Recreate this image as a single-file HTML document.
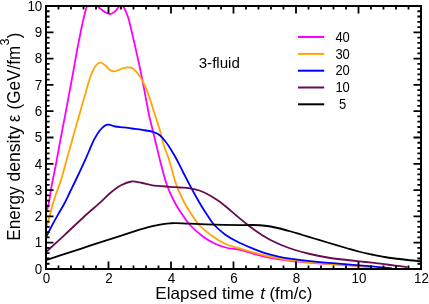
<!DOCTYPE html>
<html><head><meta charset="utf-8"><title>chart</title>
<style>html,body{margin:0;padding:0;background:#fff}svg{display:block;will-change:transform;opacity:0.999}</style></head>
<body>
<svg width="429" height="304" viewBox="0 0 429 304">
<rect width="429" height="304" fill="#fff"/>
<defs><clipPath id="c"><rect x="46.0" y="6.0" width="375.0" height="264.2"/></clipPath></defs>
<g clip-path="url(#c)" fill="none" stroke-width="1.8" stroke-linejoin="round" stroke-linecap="butt">
<path d="M46.00 213.50 C46.25 212.67 46.97 210.58 47.50 208.50 C48.03 206.42 48.52 204.75 49.20 201.00 C49.88 197.25 50.50 192.00 51.60 186.00 C52.70 180.00 54.42 172.25 55.80 165.00 C57.18 157.75 58.33 150.83 59.90 142.50 C61.47 134.17 63.70 122.92 65.20 115.00 C66.70 107.08 67.57 102.17 68.90 95.00 C70.23 87.83 71.83 79.50 73.20 72.00 C74.57 64.50 76.07 55.58 77.10 50.00 C78.13 44.42 78.60 42.50 79.40 38.50 C80.20 34.50 80.98 30.25 81.90 26.00 C82.82 21.75 84.10 16.18 84.90 13.00 C85.70 9.82 85.98 8.82 86.70 6.90 C87.42 4.98 88.22 2.82 89.20 1.50 C90.18 0.18 91.50 -1.00 92.60 -1.00 C93.70 -1.00 94.85 0.18 95.80 1.50 C96.75 2.82 97.27 5.48 98.30 6.90 C99.33 8.32 100.72 9.05 102.00 10.00 C103.28 10.95 104.63 11.93 106.00 12.60 C107.37 13.27 108.87 14.05 110.20 14.00 C111.53 13.95 112.93 13.03 114.00 12.30 C115.07 11.57 115.80 10.50 116.60 9.60 C117.40 8.70 118.03 7.67 118.80 6.90 C119.57 6.13 120.43 5.00 121.20 5.00 C121.97 5.00 122.70 5.98 123.40 6.90 C124.10 7.82 124.73 9.07 125.40 10.50 C126.07 11.93 126.82 13.92 127.40 15.50 C127.98 17.08 128.08 16.92 128.90 20.00 C129.72 23.08 131.20 29.33 132.30 34.00 C133.40 38.67 134.45 43.33 135.50 48.00 C136.55 52.67 137.58 57.33 138.60 62.00 C139.62 66.67 140.65 71.33 141.60 76.00 C142.55 80.67 143.42 85.33 144.30 90.00 C145.18 94.67 146.00 99.33 146.90 104.00 C147.80 108.67 148.70 113.50 149.70 118.00 C150.70 122.50 151.80 126.50 152.90 131.00 C154.00 135.50 154.92 139.33 156.30 145.00 C157.68 150.67 159.43 158.33 161.20 165.00 C162.97 171.67 164.73 178.92 166.90 185.00 C169.07 191.08 171.75 196.75 174.20 201.50 C176.65 206.25 178.97 209.58 181.60 213.50 C184.23 217.42 186.52 221.21 190.00 225.00 C193.48 228.79 198.33 233.12 202.50 236.25 C206.67 239.38 210.83 241.79 215.00 243.75 C219.17 245.71 223.33 246.99 227.50 248.00 C231.67 249.01 235.83 248.88 240.00 249.80 C244.17 250.72 248.33 252.33 252.50 253.50 C256.67 254.67 258.75 255.58 265.00 256.80 C271.25 258.02 281.67 259.77 290.00 260.80 C298.33 261.83 305.50 262.27 315.00 263.00 C324.50 263.73 337.50 264.53 347.00 265.20 C356.50 265.87 367.83 266.70 372.00 267.00" stroke="#ff00ff"/>
<path d="M46.00 228.50 C46.25 227.75 46.88 226.17 47.50 224.00 C48.12 221.83 48.62 219.50 49.70 215.50 C50.78 211.50 52.12 205.92 54.00 200.00 C55.88 194.08 58.90 186.67 61.00 180.00 C63.10 173.33 64.73 166.67 66.60 160.00 C68.47 153.33 70.52 146.00 72.20 140.00 C73.88 134.00 75.00 130.00 76.70 124.00 C78.40 118.00 80.98 108.93 82.40 104.00 C83.82 99.07 84.20 97.92 85.20 94.40 C86.20 90.88 87.22 86.67 88.40 82.90 C89.58 79.13 90.98 74.78 92.30 71.80 C93.62 68.82 94.92 66.53 96.30 65.00 C97.68 63.47 99.12 62.55 100.60 62.60 C102.08 62.65 103.77 64.17 105.20 65.30 C106.63 66.43 107.80 68.38 109.20 69.40 C110.60 70.42 112.05 71.30 113.60 71.40 C115.15 71.50 116.87 70.55 118.50 70.00 C120.13 69.45 121.82 68.53 123.40 68.10 C124.98 67.67 126.48 67.35 128.00 67.40 C129.52 67.45 131.05 67.60 132.50 68.40 C133.95 69.20 135.32 70.62 136.70 72.20 C138.08 73.78 139.40 75.58 140.80 77.90 C142.20 80.22 143.65 82.82 145.10 86.10 C146.55 89.38 148.12 93.62 149.50 97.60 C150.88 101.58 151.63 104.43 153.40 110.00 C155.17 115.57 158.38 125.17 160.10 131.00 C161.82 136.83 162.20 140.17 163.70 145.00 C165.20 149.83 166.98 153.33 169.10 160.00 C171.22 166.67 173.95 178.08 176.40 185.00 C178.85 191.92 181.32 196.67 183.80 201.50 C186.28 206.33 188.73 210.08 191.30 214.00 C193.87 217.92 195.67 221.29 199.20 225.00 C202.73 228.71 208.20 233.12 212.50 236.25 C216.80 239.38 220.83 241.81 225.00 243.75 C229.17 245.69 232.92 246.49 237.50 247.90 C242.08 249.31 247.92 250.93 252.50 252.20 C257.08 253.47 258.75 254.17 265.00 255.50 C271.25 256.83 281.67 258.98 290.00 260.20 C298.33 261.42 305.50 261.97 315.00 262.80 C324.50 263.63 337.50 264.50 347.00 265.20 C356.50 265.90 367.83 266.70 372.00 267.00" stroke="#ffa500"/>
<path d="M46.00 237.50 C46.52 236.43 47.93 233.42 49.10 231.10 C50.27 228.78 51.52 226.35 53.00 223.60 C54.48 220.85 56.15 217.87 58.00 214.60 C59.85 211.33 62.10 207.77 64.10 204.00 C66.10 200.23 68.05 196.00 70.00 192.00 C71.95 188.00 73.30 185.28 75.80 180.00 C78.30 174.72 82.63 165.50 85.00 160.30 C87.37 155.10 88.47 152.28 90.00 148.80 C91.53 145.32 92.63 142.37 94.20 139.40 C95.77 136.43 97.65 133.28 99.40 131.00 C101.15 128.72 103.12 126.75 104.70 125.70 C106.28 124.65 107.15 124.57 108.90 124.70 C110.65 124.83 112.75 126.05 115.20 126.50 C117.65 126.95 120.80 127.07 123.60 127.40 C126.40 127.73 128.87 128.08 132.00 128.50 C135.13 128.92 138.92 129.35 142.40 129.90 C145.88 130.45 150.10 130.98 152.90 131.80 C155.70 132.62 157.10 133.18 159.20 134.80 C161.30 136.42 163.40 138.82 165.50 141.50 C167.60 144.18 169.88 147.82 171.80 150.90 C173.72 153.98 175.13 156.48 177.00 160.00 C178.87 163.52 181.00 168.07 183.00 172.00 C185.00 175.93 187.00 179.80 189.00 183.60 C191.00 187.40 193.00 191.18 195.00 194.80 C197.00 198.42 198.92 201.85 201.00 205.30 C203.08 208.75 205.28 212.22 207.50 215.50 C209.72 218.78 211.38 221.85 214.30 225.00 C217.22 228.15 221.13 231.60 225.00 234.40 C228.87 237.20 232.92 239.47 237.50 241.80 C242.08 244.13 247.92 246.50 252.50 248.40 C257.08 250.30 260.83 251.87 265.00 253.20 C269.17 254.53 273.33 255.48 277.50 256.40 C281.67 257.32 283.75 257.83 290.00 258.70 C296.25 259.57 305.50 260.65 315.00 261.60 C324.50 262.55 337.50 263.60 347.00 264.40 C356.50 265.20 364.50 265.73 372.00 266.40 C379.50 267.07 388.67 268.07 392.00 268.40" stroke="#0000ff"/>
<path d="M46.00 252.00 C49.17 249.10 58.71 240.43 65.00 234.60 C71.29 228.77 77.92 222.33 83.75 217.00 C89.58 211.67 95.54 206.65 100.00 202.60 C104.46 198.55 107.00 195.60 110.50 192.70 C114.00 189.80 117.50 187.07 121.00 185.20 C124.50 183.33 128.00 181.87 131.50 181.50 C135.00 181.13 138.52 182.37 142.00 183.00 C145.48 183.63 147.75 184.67 152.40 185.30 C157.05 185.93 165.30 186.43 169.90 186.80 C174.50 187.17 176.65 187.23 180.00 187.50 C183.35 187.77 186.78 187.90 190.00 188.40 C193.22 188.90 196.20 189.45 199.30 190.50 C202.40 191.55 205.48 193.02 208.60 194.70 C211.72 196.38 214.88 198.42 218.00 200.60 C221.12 202.78 224.20 205.27 227.30 207.80 C230.40 210.33 233.50 213.18 236.60 215.80 C239.70 218.42 242.78 221.05 245.90 223.50 C249.02 225.95 252.50 228.50 255.30 230.50 C258.10 232.50 260.25 233.97 262.70 235.50 C265.15 237.03 266.70 238.03 270.00 239.70 C273.30 241.37 278.33 243.78 282.50 245.50 C286.67 247.22 290.42 248.58 295.00 250.00 C299.58 251.42 304.58 252.75 310.00 254.00 C315.42 255.25 321.33 256.50 327.50 257.50 C333.67 258.50 341.67 259.35 347.00 260.00 C352.33 260.65 355.33 260.95 359.50 261.40 C363.67 261.85 367.83 262.23 372.00 262.70 C376.17 263.17 380.33 263.68 384.50 264.20 C388.67 264.72 393.17 265.30 397.00 265.80 C400.83 266.30 405.75 266.97 407.50 267.20" stroke="#660c4f"/>
<path d="M46.00 260.10 C49.17 259.07 57.67 256.30 65.00 253.90 C72.33 251.50 81.67 248.42 90.00 245.70 C98.33 242.98 107.50 240.03 115.00 237.60 C122.50 235.17 130.00 232.67 135.00 231.10 C140.00 229.53 141.67 229.10 145.00 228.20 C148.33 227.30 152.00 226.37 155.00 225.70 C158.00 225.03 160.50 224.60 163.00 224.20 C165.50 223.80 167.83 223.48 170.00 223.30 C172.17 223.12 172.67 223.03 176.00 223.10 C179.33 223.17 183.50 223.45 190.00 223.70 C196.50 223.95 206.67 224.37 215.00 224.60 C223.33 224.83 233.75 225.03 240.00 225.10 C246.25 225.17 248.33 224.89 252.50 225.00 C256.67 225.11 260.83 225.25 265.00 225.75 C269.17 226.25 273.33 227.08 277.50 228.00 C281.67 228.92 285.83 230.08 290.00 231.25 C294.17 232.42 298.33 233.75 302.50 235.00 C306.67 236.25 310.83 237.50 315.00 238.75 C319.17 240.00 322.17 240.92 327.50 242.50 C332.83 244.08 341.67 246.71 347.00 248.25 C352.33 249.79 355.33 250.71 359.50 251.75 C363.67 252.79 367.83 253.62 372.00 254.50 C376.17 255.38 380.33 256.29 384.50 257.00 C388.67 257.71 392.83 258.21 397.00 258.75 C401.17 259.29 405.50 259.83 409.50 260.25 C413.50 260.67 419.08 261.08 421.00 261.25" stroke="#000000"/>
</g>
<rect x="46.00" y="6.00" width="375.00" height="263.00" fill="none" stroke="#000" stroke-width="2"/>
<path d="M58.50 269.00 v-3.60 M58.50 6.00 v3.60 M71.00 269.00 v-3.60 M71.00 6.00 v3.60 M83.50 269.00 v-3.60 M83.50 6.00 v3.60 M96.00 269.00 v-3.60 M96.00 6.00 v3.60 M108.50 269.00 v-7.50 M108.50 6.00 v7.50 M121.00 269.00 v-3.60 M121.00 6.00 v3.60 M133.50 269.00 v-3.60 M133.50 6.00 v3.60 M146.00 269.00 v-3.60 M146.00 6.00 v3.60 M158.50 269.00 v-3.60 M158.50 6.00 v3.60 M171.00 269.00 v-7.50 M171.00 6.00 v7.50 M183.50 269.00 v-3.60 M183.50 6.00 v3.60 M196.00 269.00 v-3.60 M196.00 6.00 v3.60 M208.50 269.00 v-3.60 M208.50 6.00 v3.60 M221.00 269.00 v-3.60 M221.00 6.00 v3.60 M233.50 269.00 v-7.50 M233.50 6.00 v7.50 M246.00 269.00 v-3.60 M246.00 6.00 v3.60 M258.50 269.00 v-3.60 M258.50 6.00 v3.60 M271.00 269.00 v-3.60 M271.00 6.00 v3.60 M283.50 269.00 v-3.60 M283.50 6.00 v3.60 M296.00 269.00 v-7.50 M296.00 6.00 v7.50 M308.50 269.00 v-3.60 M308.50 6.00 v3.60 M321.00 269.00 v-3.60 M321.00 6.00 v3.60 M333.50 269.00 v-3.60 M333.50 6.00 v3.60 M346.00 269.00 v-3.60 M346.00 6.00 v3.60 M358.50 269.00 v-7.50 M358.50 6.00 v7.50 M371.00 269.00 v-3.60 M371.00 6.00 v3.60 M383.50 269.00 v-3.60 M383.50 6.00 v3.60 M396.00 269.00 v-3.60 M396.00 6.00 v3.60 M408.50 269.00 v-3.60 M408.50 6.00 v3.60 M46.00 263.74 h3.60 M421.00 263.74 h-3.60 M46.00 258.48 h3.60 M421.00 258.48 h-3.60 M46.00 253.22 h3.60 M421.00 253.22 h-3.60 M46.00 247.96 h3.60 M421.00 247.96 h-3.60 M46.00 242.70 h7.50 M421.00 242.70 h-7.50 M46.00 237.44 h3.60 M421.00 237.44 h-3.60 M46.00 232.18 h3.60 M421.00 232.18 h-3.60 M46.00 226.92 h3.60 M421.00 226.92 h-3.60 M46.00 221.66 h3.60 M421.00 221.66 h-3.60 M46.00 216.40 h7.50 M421.00 216.40 h-7.50 M46.00 211.14 h3.60 M421.00 211.14 h-3.60 M46.00 205.88 h3.60 M421.00 205.88 h-3.60 M46.00 200.62 h3.60 M421.00 200.62 h-3.60 M46.00 195.36 h3.60 M421.00 195.36 h-3.60 M46.00 190.10 h7.50 M421.00 190.10 h-7.50 M46.00 184.84 h3.60 M421.00 184.84 h-3.60 M46.00 179.58 h3.60 M421.00 179.58 h-3.60 M46.00 174.32 h3.60 M421.00 174.32 h-3.60 M46.00 169.06 h3.60 M421.00 169.06 h-3.60 M46.00 163.80 h7.50 M421.00 163.80 h-7.50 M46.00 158.54 h3.60 M421.00 158.54 h-3.60 M46.00 153.28 h3.60 M421.00 153.28 h-3.60 M46.00 148.02 h3.60 M421.00 148.02 h-3.60 M46.00 142.76 h3.60 M421.00 142.76 h-3.60 M46.00 137.50 h7.50 M421.00 137.50 h-7.50 M46.00 132.24 h3.60 M421.00 132.24 h-3.60 M46.00 126.98 h3.60 M421.00 126.98 h-3.60 M46.00 121.72 h3.60 M421.00 121.72 h-3.60 M46.00 116.46 h3.60 M421.00 116.46 h-3.60 M46.00 111.20 h7.50 M421.00 111.20 h-7.50 M46.00 105.94 h3.60 M421.00 105.94 h-3.60 M46.00 100.68 h3.60 M421.00 100.68 h-3.60 M46.00 95.42 h3.60 M421.00 95.42 h-3.60 M46.00 90.16 h3.60 M421.00 90.16 h-3.60 M46.00 84.90 h7.50 M421.00 84.90 h-7.50 M46.00 79.64 h3.60 M421.00 79.64 h-3.60 M46.00 74.38 h3.60 M421.00 74.38 h-3.60 M46.00 69.12 h3.60 M421.00 69.12 h-3.60 M46.00 63.86 h3.60 M421.00 63.86 h-3.60 M46.00 58.60 h7.50 M421.00 58.60 h-7.50 M46.00 53.34 h3.60 M421.00 53.34 h-3.60 M46.00 48.08 h3.60 M421.00 48.08 h-3.60 M46.00 42.82 h3.60 M421.00 42.82 h-3.60 M46.00 37.56 h3.60 M421.00 37.56 h-3.60 M46.00 32.30 h7.50 M421.00 32.30 h-7.50 M46.00 27.04 h3.60 M421.00 27.04 h-3.60 M46.00 21.78 h3.60 M421.00 21.78 h-3.60 M46.00 16.52 h3.60 M421.00 16.52 h-3.60 M46.00 11.26 h3.60 M421.00 11.26 h-3.60" stroke="#000" stroke-width="1.8" fill="none"/>
<g font-family="'Liberation Sans', sans-serif" font-size="14.9px" fill="#000">
<text transform="translate(46.40,282.6) scale(0.900,1)" text-anchor="middle">0</text>
<text transform="translate(108.90,282.6) scale(0.900,1)" text-anchor="middle">2</text>
<text transform="translate(171.40,282.6) scale(0.900,1)" text-anchor="middle">4</text>
<text transform="translate(233.90,282.6) scale(0.900,1)" text-anchor="middle">6</text>
<text transform="translate(296.40,282.6) scale(0.900,1)" text-anchor="middle">8</text>
<text transform="translate(358.90,282.6) scale(0.900,1)" text-anchor="middle">10</text>
<text transform="translate(421.40,282.6) scale(0.900,1)" text-anchor="middle">12</text>
<text transform="translate(42.3,273.70) scale(0.900,1)" text-anchor="end">0</text>
<text transform="translate(42.3,247.40) scale(0.900,1)" text-anchor="end">1</text>
<text transform="translate(42.3,221.10) scale(0.900,1)" text-anchor="end">2</text>
<text transform="translate(42.3,194.80) scale(0.900,1)" text-anchor="end">3</text>
<text transform="translate(42.3,168.50) scale(0.900,1)" text-anchor="end">4</text>
<text transform="translate(42.3,142.20) scale(0.900,1)" text-anchor="end">5</text>
<text transform="translate(42.3,115.90) scale(0.900,1)" text-anchor="end">6</text>
<text transform="translate(42.3,89.60) scale(0.900,1)" text-anchor="end">7</text>
<text transform="translate(42.3,63.30) scale(0.900,1)" text-anchor="end">8</text>
<text transform="translate(42.3,37.00) scale(0.900,1)" text-anchor="end">9</text>
<text transform="translate(42.3,10.70) scale(0.900,1)" text-anchor="end">10</text>
</g>
<g font-family="'Liberation Sans', sans-serif" font-size="14.4px" fill="#000">
<path d="M298 37.00 H324.2" stroke="#ff00ff" stroke-width="2"/>
<text transform="translate(335.40,41.70) scale(0.9,1)">40</text>
<path d="M298 53.90 H324.2" stroke="#ffa500" stroke-width="2"/>
<text transform="translate(335.40,58.60) scale(0.9,1)">30</text>
<path d="M298 70.70 H324.2" stroke="#0000ff" stroke-width="2"/>
<text transform="translate(335.40,75.40) scale(0.9,1)">20</text>
<path d="M298 87.50 H324.2" stroke="#660c4f" stroke-width="2"/>
<text transform="translate(335.40,92.20) scale(0.9,1)">10</text>
<path d="M298 104.30 H324.2" stroke="#000000" stroke-width="2"/>
<text transform="translate(339.00,109.00) scale(0.9,1)">5</text>
</g>
<text x="198.7" y="67.8" font-family="'Liberation Sans', sans-serif" font-size="15.3px" fill="#000" textLength="41.2" lengthAdjust="spacingAndGlyphs">3-fluid</text>
<g font-family="'Liberation Sans', sans-serif" font-size="16.5px" fill="#000">
<text x="155.3" y="299.3" textLength="98.97" lengthAdjust="spacingAndGlyphs">Elapsed time</text>
<text x="260.3" y="299.3" font-style="italic" textLength="4.76" lengthAdjust="spacingAndGlyphs">t</text>
<text x="269.5" y="299.3" textLength="42.8" lengthAdjust="spacingAndGlyphs">(fm/c)</text>
</g>
<g font-family="'Liberation Sans', sans-serif" font-size="17.5px" fill="#000">
<text transform="translate(20.10,240.70) rotate(-90)" textLength="54.30" lengthAdjust="spacingAndGlyphs">Energy</text>
<text transform="translate(20.10,181.60) rotate(-90)" textLength="55.70" lengthAdjust="spacingAndGlyphs">density</text>
<text transform="translate(20.10,121.90) rotate(-90)" textLength="7.40" lengthAdjust="spacingAndGlyphs">ε</text>
<text transform="translate(20.10,109.40) rotate(-90)" textLength="63.50" lengthAdjust="spacingAndGlyphs">(GeV/fm</text>
<text transform="translate(9.30,45.40) rotate(-90)" textLength="7.00" lengthAdjust="spacingAndGlyphs" font-size="12.6px">3</text>
<text transform="translate(20.10,38.20) rotate(-90)" textLength="5.60" lengthAdjust="spacingAndGlyphs" font-size="18.4px">)</text>
</g>
</svg>
</body></html>
